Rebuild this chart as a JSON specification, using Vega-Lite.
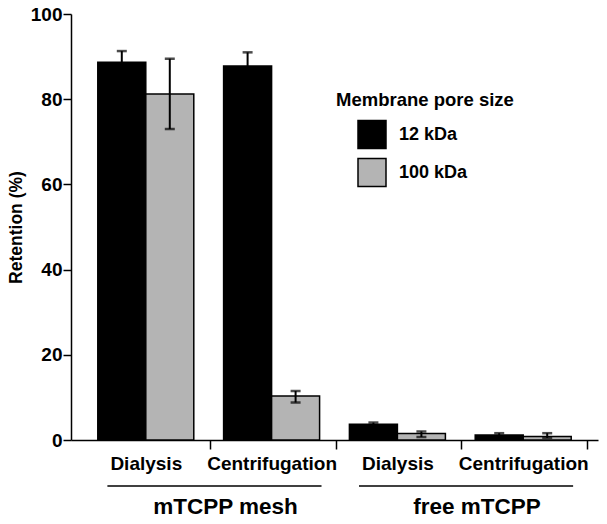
{
  "$schema": "https://vega.github.io/schema/vega-lite/v6.json",
  "width": 527,
  "height": 426,
  "autosize": {"type": "none"},
  "padding": {"left": 71, "top": 14, "right": 9, "bottom": 84},
  "background": "white",
  "config": {
    "font": "Liberation Sans",
    "view": {"stroke": null},
    "axis": {"labelFont": "Liberation Sans", "titleFont": "Liberation Sans", "labelColor": "#000", "titleColor": "#000", "domainColor": "#000", "tickColor": "#000", "grid": false},
    "legend": {"labelFont": "Liberation Sans", "titleFont": "Liberation Sans"}
  },
  "datasets": {
    "bars": [
      {"key": "mesh|Dialysis", "pore": "12 kDa", "value": 88.7, "lo": 86.1, "hi": 91.3},
      {"key": "mesh|Dialysis", "pore": "100 kDa", "value": 81.2, "lo": 73.0, "hi": 89.5},
      {"key": "mesh|Centrifugation", "pore": "12 kDa", "value": 87.8, "lo": 84.6, "hi": 91.0},
      {"key": "mesh|Centrifugation", "pore": "100 kDa", "value": 10.3, "lo": 8.8, "hi": 11.5},
      {"key": "free|Dialysis", "pore": "12 kDa", "value": 3.7, "lo": 3.3, "hi": 4.1},
      {"key": "free|Dialysis", "pore": "100 kDa", "value": 1.5, "lo": 0.7, "hi": 2.0},
      {"key": "free|Centrifugation", "pore": "12 kDa", "value": 1.2, "lo": 0.8, "hi": 1.6},
      {"key": "free|Centrifugation", "pore": "100 kDa", "value": 0.8, "lo": 0.5, "hi": 1.6}
    ],
    "groups": [
      {"group": "mTCPP mesh", "start": "mesh|Dialysis", "end": "mesh|Centrifugation"},
      {"group": "free mTCPP", "start": "free|Dialysis", "end": "free|Centrifugation"}
    ]
  },
  "layer": [
    {
      "data": {"name": "bars"},
      "mark": {"type": "bar", "stroke": "#000", "strokeWidth": 1.5},
      "encoding": {
        "x": {
          "field": "key", "type": "nominal",
          "scale": {"domain": ["mesh|Dialysis", "mesh|Centrifugation", "free|Dialysis", "free|Centrifugation"], "paddingInner": 0.237, "paddingOuter": 0.213},
          "axis": {
            "title": null, "orient": "bottom",
            "labelExpr": "split(datum.label, '|')[1]",
            "labelFontSize": 19, "labelFontWeight": "bold", "labelPadding": 5, "labelOverlap": false,
            "labelAngle": 0,
            "domainWidth": 1.5, "tickWidth": 1.5, "tickSize": 9,
            "tickOffset": 64, "labelOffset": -64
          }
        },
        "xOffset": {"field": "pore", "type": "nominal", "scale": {"domain": ["12 kDa", "100 kDa"], "paddingInner": 0, "paddingOuter": 0}},
        "y": {
          "field": "value", "type": "quantitative",
          "scale": {"domain": [0, 100], "nice": false},
          "axis": {
            "title": "Retention (%)", "values": [0, 20, 40, 60, 80, 100],
            "labelFontSize": 19, "labelFontWeight": "bold", "labelPadding": 1,
            "titleFontSize": 17.5, "titleFontWeight": "bold", "titlePadding": 5,
            "domainWidth": 1.5, "tickWidth": 1.5, "tickSize": 8
          }
        },
        "fill": {
          "field": "pore", "type": "nominal",
          "scale": {"domain": ["12 kDa", "100 kDa"], "range": ["#000000", "#b4b4b4"]},
          "legend": {
            "title": "Membrane pore size", "orient": "none", "legendX": 265, "legendY": 77,
            "titleFontSize": 18.5, "titleFontWeight": "bold", "titleColor": "#000", "titlePadding": 10,
            "labelFontSize": 18, "labelFontWeight": "bold", "labelColor": "#000", "labelOffset": 12,
            "symbolType": "square", "symbolSize": 784, "symbolStrokeColor": "#000", "symbolStrokeWidth": 1.5,
            "symbolOffset": 21, "rowPadding": 4
          }
        }
      }
    },
    {
      "data": {"name": "bars"},
      "mark": {"type": "rule", "color": "#000", "strokeWidth": 2},
      "encoding": {
        "x": {"field": "key", "type": "nominal"},
        "xOffset": {"field": "pore", "type": "nominal"},
        "y": {"field": "lo", "type": "quantitative"},
        "y2": {"field": "hi"}
      }
    },
    {
      "data": {"name": "bars"},
      "mark": {"type": "tick", "color": "#000", "size": 10, "thickness": 2.5},
      "encoding": {
        "x": {"field": "key", "type": "nominal"},
        "xOffset": {"field": "pore", "type": "nominal"},
        "y": {"field": "hi", "type": "quantitative"}
      }
    },
    {
      "data": {"name": "bars"},
      "mark": {"type": "tick", "color": "#000", "size": 10, "thickness": 2.5},
      "encoding": {
        "x": {"field": "key", "type": "nominal"},
        "xOffset": {"field": "pore", "type": "nominal"},
        "y": {"field": "lo", "type": "quantitative"}
      }
    },
    {
      "data": {"name": "groups"},
      "mark": {"type": "rule", "color": "#000", "strokeWidth": 1.5},
      "encoding": {
        "x": {"field": "start", "type": "nominal", "bandPosition": 0.1},
        "x2": {"field": "end", "bandPosition": 1.02},
        "y": {"datum": -10.8}
      }
    },
    {
      "data": {"name": "groups"},
      "mark": {"type": "text", "color": "#000", "fontSize": 22.5, "fontWeight": "bold", "baseline": "middle", "align": "center"},
      "encoding": {
        "x": {"field": "start", "type": "nominal", "bandPosition": 1.33},
        "y": {"datum": -15.8},
        "text": {"field": "group"}
      }
    }
  ]
}
